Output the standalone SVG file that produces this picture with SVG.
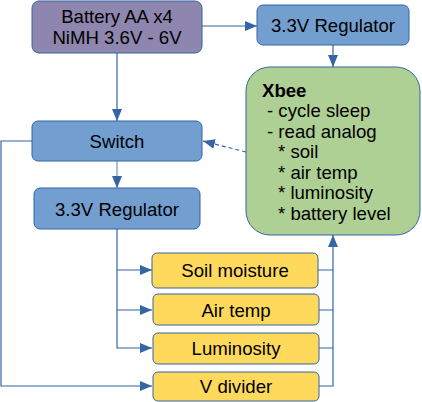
<svg xmlns="http://www.w3.org/2000/svg" width="422" height="402" viewBox="0 0 422 402">
<defs>
<marker id="arr" markerUnits="userSpaceOnUse" markerWidth="12" markerHeight="10" viewBox="0 0 12 10" refX="12" refY="5" orient="auto">
<path d="M0,0 L12,5 L0,10 Z" fill="#3465a4"/>
</marker>
</defs>
<style>
.blue{fill:#729fcf;stroke:#3465a4;stroke-width:1}
.purple{fill:#8e86ae;stroke:#3465a4;stroke-width:1}
.green{fill:#afd095;stroke:#3465a4;stroke-width:1}
.yellow{fill:#ffd95c;stroke:#3465a4;stroke-width:1}
text{font-family:"Liberation Sans",Arial,sans-serif;font-size:18.6px;fill:#000}
.c{text-anchor:middle}
.con{fill:none;stroke:#3465a4;stroke-width:1.2}
</style>
<g id="connectors">
<path class="con" d="M202,26 H257" marker-end="url(#arr)"/>
<path class="con" d="M333,45 V67" marker-end="url(#arr)"/>
<path class="con" d="M117,53 V121" marker-end="url(#arr)"/>
<path class="con" d="M117,161 V188" marker-end="url(#arr)" stroke-opacity="0.7"/>
<path class="con" d="M246,152 L203,141" stroke-dasharray="4,3" marker-end="url(#arr)"/>
<path class="con" d="M32,141 H1 V386 H152" marker-end="url(#arr)"/>
<path class="con" d="M117,229 V348 H152" marker-end="url(#arr)"/>
<path class="con" d="M117,270 H152" marker-end="url(#arr)"/>
<path class="con" d="M117,310 H152" marker-end="url(#arr)"/>
<path class="con" d="M318,270 H333 M319,310 H333 M319,348 H333"/>
<path class="con" d="M319,386 H333 V235" marker-end="url(#arr)"/>
</g>
<g id="battery">
<rect class="purple" x="32" y="1" width="170" height="52" rx="7"/>
<text class="c" x="117" y="23">Battery AA x4</text>
<text class="c" x="117" y="43.5">NiMH 3.6V - 6V</text>
</g>
<g id="regulator1">
<rect class="blue" x="257" y="5" width="152" height="40" rx="6"/>
<text class="c" x="333" y="31.5">3.3V Regulator</text>
</g>
<g id="xbee">
<rect class="green" x="246" y="67" width="174" height="168" rx="24"/>
<text x="262" y="96.5" font-weight="bold">Xbee</text>
<text x="267" y="117">- cycle sleep</text>
<text x="267" y="137.5">- read analog</text>
<text x="278" y="158">* soil</text>
<text x="278" y="178.5">* air temp</text>
<text x="278" y="199">* luminosity</text>
<text x="278" y="219.5">* battery level</text>
</g>
<g id="switch">
<rect class="blue" x="32" y="121" width="170" height="40" rx="6"/>
<text class="c" x="117" y="147.5">Switch</text>
</g>
<g id="regulator2">
<rect class="blue" x="34" y="188" width="166" height="41" rx="6"/>
<text class="c" x="117" y="215.5">3.3V Regulator</text>
</g>
<g id="soil">
<rect class="yellow" x="152" y="253" width="166" height="35" rx="5"/>
<text class="c" x="235" y="276.5">Soil moisture</text>
</g>
<g id="airtemp">
<rect class="yellow" x="153" y="294" width="166" height="31" rx="5"/>
<text class="c" x="236" y="316.5">Air temp</text>
</g>
<g id="luminosity">
<rect class="yellow" x="153" y="333" width="166" height="31" rx="5"/>
<text class="c" x="236" y="354.5">Luminosity</text>
</g>
<g id="vdivider">
<rect class="yellow" x="153" y="372" width="166" height="29" rx="5"/>
<text class="c" x="236" y="392.5">V divider</text>
</g>
</svg>
